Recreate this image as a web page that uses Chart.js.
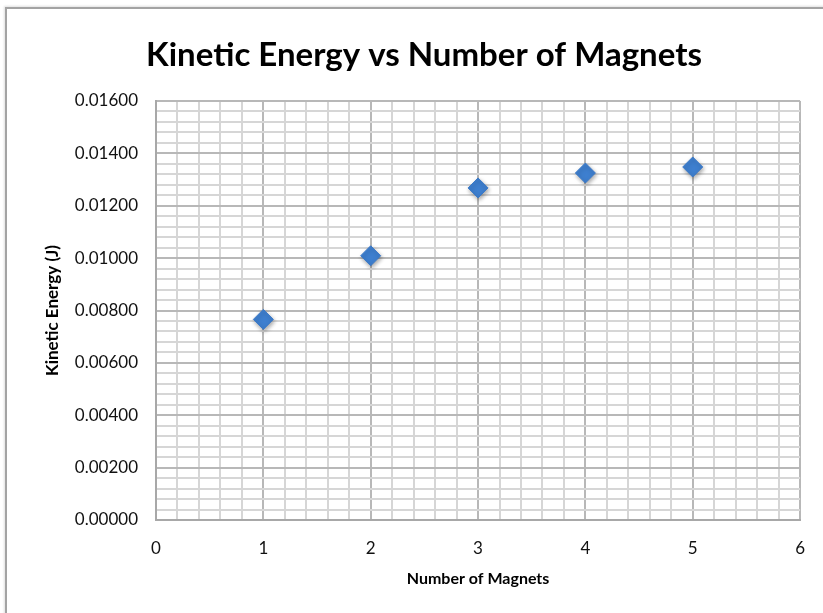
<!DOCTYPE html>
<html>
<head>
<meta charset="utf-8">
<script src="https://cdn.jsdelivr.net/npm/chart.js@4/dist/chart.umd.min.js"></script>
<style>
  html, body { margin: 0; padding: 0; background: #ffffff; }
  #wrap { position: relative; width: 823px; height: 613px; overflow: hidden; }
  #frame {
    position: absolute; left: 5px; top: 7px; width: 900px; height: 700px;
    border-left: 2px solid #a3a3a3; border-top: 2px solid #a3a3a3;
    box-shadow: -1px -1px 2px rgba(0,0,0,0.12);
  }
  #chart { position: absolute; left: 0; top: 0; }
</style>
</head>
<body>
<div id="wrap">
  <div id="frame"></div>
  <canvas id="chart" width="823" height="613"></canvas>
</div>
<script>
// Measured kinetic energy for each number of magnets
const magnets = [1, 2, 3, 4, 5];
const kineticEnergy = [0.00766, 0.01009, 0.01268, 0.01325, 0.01348];

// Axis ranges and grid spacing
const xRange = [0, 6];
const xMajorStep = 1;
const xMinorStep = 0.2;
const yRange = [0, 0.016];
const yMajorStep = 0.002;
const yMinorStep = 0.0004;

const FONT = "Lato, 'Open Sans', sans-serif";
const MAJOR_GRID = '#b8b8b8';
const MINOR_GRID = '#d6d6d6';

function isMultiple(v, step) {
  const r = v / step;
  return Math.abs(r - Math.round(r)) < 1e-6;
}

// Soft drop shadow under the markers
const markerShadow = {
  id: 'markerShadow',
  beforeDatasetsDraw(chart) {
    const c = chart.ctx;
    c.save();
    c.shadowColor = 'rgba(0,0,0,0.35)';
    c.shadowBlur = 4;
    c.shadowOffsetX = 1;
    c.shadowOffsetY = 2;
  },
  afterDatasetsDraw(chart) {
    chart.ctx.restore();
  }
};

const points = magnets.map((m, i) => ({ x: m, y: kineticEnergy[i] }));

new Chart(document.getElementById('chart'), {
  type: 'scatter',
  data: {
    datasets: [{
      label: 'Kinetic Energy',
      data: points,
      pointStyle: 'rectRot',
      pointRadius: 10,
      pointHoverRadius: 10,
      backgroundColor: '#3e7fcf',
      borderColor: '#3a79c8',
      borderWidth: 1,
      showLine: false
    }]
  },
  options: {
    responsive: false,
    animation: false,
    events: [],
    layout: { padding: { left: 42, right: 17, top: 8, bottom: 0 } },
    plugins: {
      legend: { display: false },
      tooltip: { enabled: false },
      title: {
        display: true,
        text: 'Kinetic Energy vs Number of Magnets',
        color: '#000000',
        font: { family: FONT, size: 33, weight: 'bold' },
        padding: { top: 28, bottom: 25.4 }
      }
    },
    scales: {
      x: {
        type: 'linear',
        min: xRange[0],
        max: xRange[1],
        afterFit(scale) { scale.height = 93; },
        border: { display: true, color: '#a8a8a8', width: 2 },
        grid: {
          drawTicks: false,
          lineWidth: 2,
          color: (ctx) => isMultiple(ctx.tick.value, xMajorStep) ? MAJOR_GRID : MINOR_GRID
        },
        ticks: {
          stepSize: xMinorStep,
          autoSkip: false,
          maxRotation: 0,
          padding: 18,
          color: '#111111',
          font: { family: FONT, size: 17 },
          callback: (v) => isMultiple(v, xMajorStep) ? String(Math.round(v)) : ''
        },
        title: {
          display: true,
          text: 'Number of Magnets',
          color: '#000000',
          font: { family: FONT, size: 16, weight: 'bold' },
          padding: { top: 0, bottom: 25 }
        }
      },
      y: {
        type: 'linear',
        min: yRange[0],
        max: yRange[1],
        afterFit(scale) { scale.width = 114; },
        border: { display: true, color: '#a8a8a8', width: 2 },
        grid: {
          drawTicks: false,
          lineWidth: 2,
          color: (ctx) => isMultiple(ctx.tick.value, yMajorStep) ? MAJOR_GRID : MINOR_GRID
        },
        ticks: {
          stepSize: yMinorStep,
          autoSkip: false,
          padding: 18,
          color: '#111111',
          font: { family: FONT, size: 17 },
          callback: (v) => isMultiple(v, yMajorStep) ? v.toFixed(5) : ''
        },
        title: {
          display: true,
          text: 'Kinetic Energy (J)',
          color: '#000000',
          font: { family: FONT, size: 17, weight: 'bold' },
          padding: { top: 0, bottom: 0 }
        }
      }
    }
  },
  plugins: [markerShadow]
});
</script>
</body>
</html>
